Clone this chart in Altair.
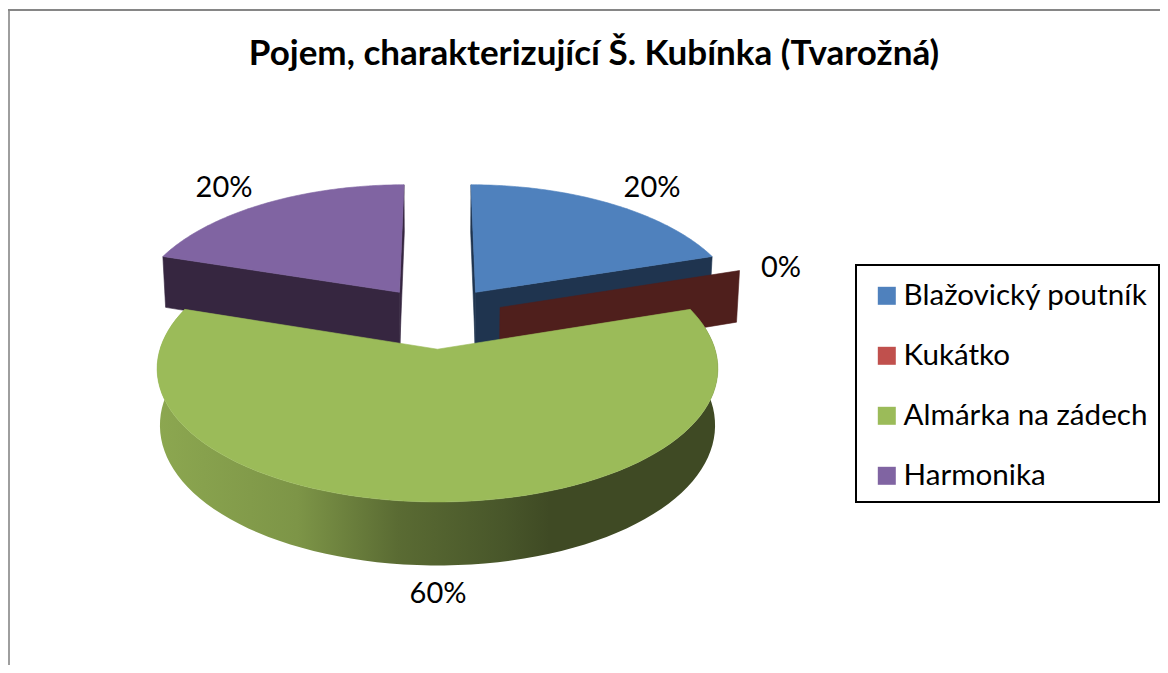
import numpy as np
import pandas as pd
import altair as alt

TITLE = "Pojem, charakterizující Š. Kubínka (Tvarožná)"
categories = ["Blažovický poutník", "Kukátko", "Almárka na zádech", "Harmonika"]
shares = [20, 0, 60, 20]
pct_labels = ["20%", "0%", "60%", "20%"]
top_colors = ["#4F81BD", "#C0504D", "#9BBB59", "#8064A2"]
side_colors = ["#1F344F", "#4F1F1C", "#8CA750", "#362640"]

# layout of the page and of the tilted pie (pixels)
W, H, TOP = 1152, 657, 70
FONT = "Lato"
CX, CY, R, S = 437.5, 317.0, 268.0, 126.0
PX, PY, EXPLODE, DEPTH = 0.138, 0.12, 0.248, 54.0
LABEL_X = [652, 781, 438, 224]
LABEL_Y = [188, 268, 594, 188]


def project(X, V, drop=0.0):
    X, V = np.asarray(X, float), np.asarray(V, float)
    fx = 1 / (1 - PX * V)
    fy = 1 / (1 - PY * V)
    shrink = 1 - 0.01 * drop
    return CX + R * X * fx * shrink, CY + S * V * fy + DEPTH * drop * fy


X_ENC = alt.X("x:Q", axis=None, scale=alt.Scale(domain=[8, 8 + W], nice=False, zero=False))
Y_ENC = alt.Y("y:Q", axis=None, scale=alt.Scale(domain=[8 + TOP, 8 + H], nice=False, zero=False, reverse=True))


def polygon(xs, ys, fill):
    df = pd.DataFrame({"x": xs, "y": ys, "i": range(len(xs))})
    if isinstance(fill, str):
        mark = alt.Chart(df).mark_line(fill=fill, stroke=fill, strokeWidth=0.6)
    else:
        mark = alt.Chart(df).mark_line(fill=fill, strokeWidth=0)
    return mark.encode(x=X_ENC, y=Y_ENC, order=alt.Order("i:Q"))


green_side = alt.Gradient(
    gradient="linear", x1=0, x2=1, y1=0, y2=0,
    stops=[
        alt.GradientStop(offset=0.0, color="#8CA750"),
        alt.GradientStop(offset=0.25, color="#7D9547"),
        alt.GradientStop(offset=0.43, color="#5A6B33"),
        alt.GradientStop(offset=0.62, color="#48562A"),
        alt.GradientStop(offset=0.70, color="#3F4A24"),
        alt.GradientStop(offset=1.0, color="#3F4A24"),
    ],
)

starts = np.cumsum([0] + shares[:-1]) * 3.6
ends = starts + np.array(shares) * 3.6
layers = []
for idx in [0, 3, 1, 2]:
    a0, a1 = np.radians(starts[idx]), np.radians(ends[idx])
    mid = (a0 + a1) / 2
    ox, ov = EXPLODE * np.sin(mid), -EXPLODE * np.cos(mid)
    arc = np.linspace(a0, a1, 90)
    ax, av = ox + np.sin(arc), ov - np.cos(arc)
    # cut faces of the slice
    for a in ([a0] if a0 == a1 else [a0, a1]):
        ex, ev = [ox, ox + np.sin(a)], [ov, ov - np.cos(a)]
        xt, yt = project(ex, ev)
        xb, yb = project(ex, ev, 1.0)
        if idx != 2:
            layers.append(polygon(list(xt) + list(xb[::-1]) + [xt[0]], list(yt) + list(yb[::-1]) + [yt[0]], side_colors[idx]))
    if shares[idx] == 0:
        continue
    # outer wall, only where it faces the viewer
    if idx == 2:
        xt, yt = project(ax, av)
        xb, yb = project(ax, av, 1.0)
        layers.append(polygon(list(xt) + list(xb[::-1]), list(yt) + list(yb[::-1]), green_side))
    # top face
    xt, yt = project(ax, av)
    xc, yc = project([ox], [ov])
    layers.append(polygon([xc[0]] + list(xt) + [xc[0]], [yc[0]] + list(yt) + [yc[0]], top_colors[idx]))

labels = pd.DataFrame({"x": LABEL_X, "y": LABEL_Y, "t": pct_labels})
text = alt.Chart(labels).mark_text(font=FONT, fontSize=29, color="#000000", align="center", baseline="middle").encode(
    x=X_ENC, y=Y_ENC, text="t:N"
)

legend_df = pd.DataFrame({"category": categories, "x": LABEL_X, "y": LABEL_Y})
legend_layer = alt.Chart(legend_df).mark_square(opacity=0).encode(
    x=X_ENC,
    y=Y_ENC,
    color=alt.Color(
        "category:N",
        scale=alt.Scale(domain=categories, range=top_colors),
        sort=categories,
        legend=alt.Legend(
            title=None, orient="none", legendX=848, legendY=257 - TOP,
            symbolType="square", symbolSize=324, symbolOpacity=1, symbolStrokeWidth=0,
            symbolOffset=0, labelOffset=2, labelFont=FONT, labelFontSize=29.6, labelColor="#000000",
            labelLimit=400, rowPadding=29, padding=16,
        ),
    ),
)

frame_left = alt.Chart().mark_rule(color="#868686", strokeWidth=1.6).encode(
    x=alt.value(1), y=alt.value(1 - TOP), y2=alt.value(H - TOP)
)
frame_top = alt.Chart().mark_rule(color="#868686", strokeWidth=2).encode(
    x=alt.value(0), x2=alt.value(W), y=alt.value(2 - TOP)
)
legend_box = alt.Chart().mark_rect(fillOpacity=0, stroke="#000000", strokeWidth=2).encode(
    x=alt.value(848), x2=alt.value(W - 1), y=alt.value(257 - TOP), y2=alt.value(494 - TOP)
)

chart = alt.layer(frame_left, frame_top, legend_box, *layers, text, legend_layer).properties(
    width=W, height=H - TOP,
    padding={"left": 0, "top": TOP, "right": 0, "bottom": 0},
    autosize=alt.AutoSizeParams(type="none"),
    title=alt.TitleParams(
        TITLE, font=FONT, fontSize=35, fontWeight="bold", color="#000000",
        anchor="middle", frame="group", dx=10, dy=104, offset=12, baseline="alphabetic",
    ),
).configure_view(stroke=None)

chart.save("out.html", embed_options={"renderer": "svg", "actions": False})
